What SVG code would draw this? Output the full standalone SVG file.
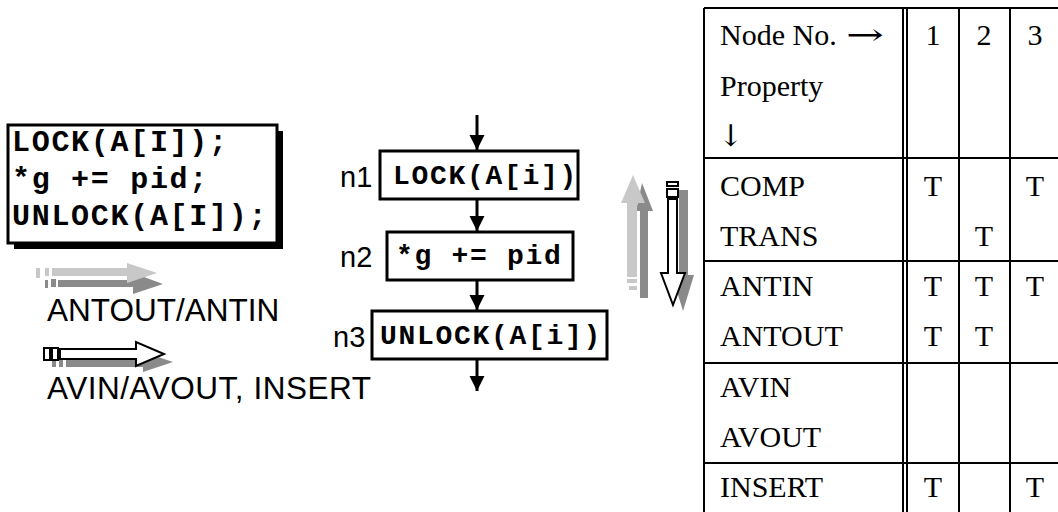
<svg xmlns="http://www.w3.org/2000/svg" width="1058" height="512" viewBox="0 0 1058 512">
<style>
.code{font-family:"Liberation Mono","Courier New",monospace;font-weight:bold;font-size:28px;letter-spacing:1.7px;fill:#000}
.code2{font-family:"Liberation Mono","Courier New",monospace;font-weight:bold;font-size:30px;letter-spacing:1.7px;fill:#000}
.lab{font-family:"Liberation Sans",Arial,sans-serif;font-size:29px;fill:#000}
.leg{font-family:"Liberation Sans",Arial,sans-serif;font-size:31.5px;fill:#000}
.tb{font-family:"Liberation Serif","Times New Roman",serif;font-size:30px;fill:#000}
.ar{font-family:"DejaVu Serif","Liberation Serif",serif;font-size:30px;fill:#000}
.box{fill:#fff;stroke:#000;stroke-width:3}
.conn{stroke:#000;stroke-width:3;fill:none}
.tl{stroke:#000;stroke-width:2;fill:none}
.lg{fill:#c8c8c8}
.dg{fill:#8a8a8a}
.wa{fill:#fff;stroke:#000;stroke-width:2}
</style>
<defs>
<marker id="down" markerUnits="userSpaceOnUse" markerWidth="16" markerHeight="16" refX="7.5" refY="15" orient="0" viewBox="0 0 15 16">
<path d="M0,0 L15,0 L7.5,15 Z" fill="#000"/>
</marker>
</defs>

<g id="code-block">
<rect x="14" y="131" width="269" height="118" fill="#000"/>
<rect x="8" y="125" width="269" height="118" class="box"/>
<text class="code2" x="12" y="151">LOCK(A[I]);</text>
<text class="code2" x="12" y="188">*g += pid;</text>
<text class="code2" x="12" y="225">UNLOCK(A[I]);</text>
</g>

<g id="legend-anticipatable">
<g class="dg">
<rect x="45" y="280" width="3" height="8"/>
<rect x="51" y="279" width="5" height="8"/>
<rect x="58" y="280" width="76" height="7"/>
<polygon points="133,273 163,284 133,294"/>
</g>
<g class="lg">
<rect x="36" y="268" width="4" height="10"/>
<rect x="45" y="268" width="4" height="8"/>
<rect x="52" y="268" width="76" height="8"/>
<polygon points="127,263 157,273 127,283"/>
</g>
<text class="leg" x="47" y="321">ANTOUT/ANTIN</text>
</g>

<g id="legend-available">
<g class="dg">
<rect x="52" y="359" width="4" height="8"/>
<rect x="59" y="359" width="4" height="8"/>
<rect x="66" y="360" width="78" height="7"/>
<polygon points="143,352 173,362 143,372"/>
</g>
<rect x="44" y="348" width="6" height="12" class="wa"/>
<rect x="52" y="348" width="6" height="12" class="wa"/>
<polygon points="60,349 136,349 136,342 164,354 136,366 136,359 60,359" class="wa"/>
<text class="leg" x="47" y="399" textLength="324">AVIN/AVOUT, INSERT</text>
</g>

<g id="n1">
<text class="lab" x="340" y="187">n1</text>
<rect x="380" y="151" width="198" height="48" class="box"/>
<text class="code" x="393" y="184">LOCK(A[i])</text>
</g>
<g id="n2">
<text class="lab" x="340" y="267">n2</text>
<rect x="387" y="232" width="186" height="48" class="box"/>
<text class="code" x="396" y="264">*g += pid</text>
</g>
<g id="n3">
<text class="lab" x="333" y="347">n3</text>
<rect x="372" y="311" width="235" height="48" class="box"/>
<text class="code" x="380" y="344">UNLOCK(A[i])</text>
</g>

<g id="connectors">
<line x1="477" y1="115" x2="477" y2="150" class="conn" marker-end="url(#down)"/>
<line x1="477" y1="199" x2="477" y2="231" class="conn" marker-end="url(#down)"/>
<line x1="477" y1="280" x2="477" y2="310" class="conn" marker-end="url(#down)"/>
<line x1="477" y1="359" x2="477" y2="391" class="conn" marker-end="url(#down)"/>
</g>

<g id="direction-arrows">
<g class="dg">
<rect x="640" y="210" width="8" height="88"/>
<polygon points="636,211 642,183 653,211"/>
<rect x="642" y="290" width="6" height="4"/>
</g>
<g class="lg">
<rect x="627" y="202" width="10" height="75"/>
<polygon points="621,203 633,175 645,203"/>
<rect x="627" y="279" width="10" height="4"/>
<rect x="629" y="286" width="8" height="4"/>
</g>
<g class="dg">
<rect x="679" y="190" width="9" height="85"/>
<polygon points="672,275 694,275 683,311"/>
</g>
<rect x="667" y="182" width="11" height="4" class="wa"/>
<rect x="667" y="189" width="11" height="8" class="wa"/>
<polygon points="668,199 677,199 677,273 685,273 673,305 661,273 668,273" class="wa"/>
</g>

<g id="table">
<line x1="704" y1="8" x2="1058" y2="8" class="tl"/>
<line x1="704" y1="158" x2="1058" y2="158" class="tl"/>
<line x1="704" y1="261" x2="1058" y2="261" class="tl"/>
<line x1="704" y1="363" x2="1058" y2="363" class="tl"/>
<line x1="704" y1="463" x2="1058" y2="463" class="tl"/>
<line x1="704" y1="8" x2="704" y2="512" class="tl"/>
<line x1="903" y1="8" x2="903" y2="512" class="tl"/>
<line x1="907" y1="8" x2="907" y2="512" class="tl"/>
<line x1="959" y1="8" x2="959" y2="512" class="tl"/>
<line x1="1010" y1="8" x2="1010" y2="512" class="tl"/>
<text class="tb" x="720" y="45">Node No.</text>
<text class="ar" x="846" y="45" textLength="38" lengthAdjust="spacingAndGlyphs">→</text>
<text class="tb" x="720" y="96">Property</text>
<text class="ar" x="718" y="146">↓</text>
<text class="tb" x="720" y="196">COMP</text>
<text class="tb" x="720" y="246">TRANS</text>
<text class="tb" x="720" y="296">ANTIN</text>
<text class="tb" x="720" y="346">ANTOUT</text>
<text class="tb" x="720" y="397">AVIN</text>
<text class="tb" x="720" y="447">AVOUT</text>
<text class="tb" x="720" y="497">INSERT</text>
<g text-anchor="middle">
<text class="tb" x="933" y="45">1</text>
<text class="tb" x="984" y="45">2</text>
<text class="tb" x="1035" y="45">3</text>
<text class="tb" x="933" y="196">T</text>
<text class="tb" x="1035" y="196">T</text>
<text class="tb" x="984" y="246">T</text>
<text class="tb" x="933" y="296">T</text>
<text class="tb" x="984" y="296">T</text>
<text class="tb" x="1035" y="296">T</text>
<text class="tb" x="933" y="346">T</text>
<text class="tb" x="984" y="346">T</text>
<text class="tb" x="933" y="497">T</text>
<text class="tb" x="1035" y="497">T</text>
</g>
</g>
</svg>
